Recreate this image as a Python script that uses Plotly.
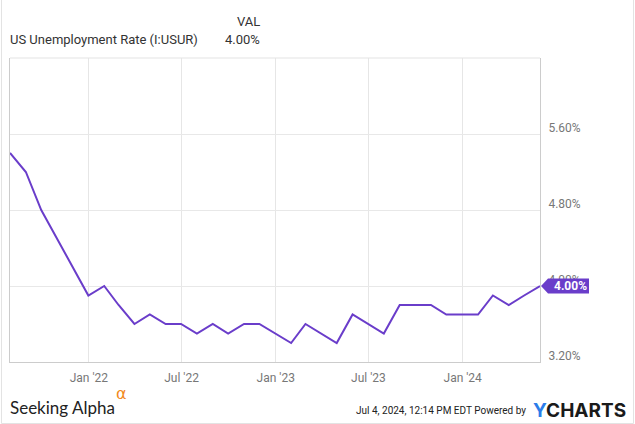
import pandas as pd
import plotly.graph_objects as go

# ---- data ----
dates = list(pd.date_range("2021-07-31", periods=35, freq="ME"))
rate = [5.4, 5.2, 4.8, 4.5, 4.2, 3.9,
        4.0, 3.8, 3.6, 3.7, 3.6, 3.6, 3.5, 3.6, 3.5, 3.6, 3.6, 3.5,
        3.4, 3.6, 3.5, 3.4, 3.7, 3.6, 3.5, 3.8, 3.8, 3.8, 3.7, 3.7,
        3.7, 3.9, 3.8, 3.9, 4.0]
xtick_vals = ["2022-01-01", "2022-07-01", "2023-01-01", "2023-07-01", "2024-01-01"]
xtick_text = ["Jan '22", "Jul '22", "Jan '23", "Jul '23", "Jan '24"]
ytick_vals = [3.2, 4.0, 4.8, 5.6]
y_range = [3.2, 6.4]
series_name = "US Unemployment Rate (I:USUR)"

LINE = "#6a3dca"
W, H = 635, 424
L, R, T, B = 10, 95, 58, 62
PW, PH = W - L - R, H - T - B

def px(x):
    return (x - L) / PW

def py(y):
    return (H - B - y) / PH

fig = go.Figure()
fig.add_trace(go.Scatter(x=dates, y=rate, mode="lines",
                         line=dict(color=LINE, width=2), hoverinfo="skip"))

last = rate[-1]
yfrac = (last - y_range[0]) / (y_range[1] - y_range[0])

shapes = [
    dict(type="line", xref="paper", yref="paper", x0=0, x1=1, y0=1, y1=1,
         line=dict(color="#e3e3e3", width=1)),
    dict(type="line", xref="paper", yref="paper", x0=px(1.5), x1=px(1.5), y0=py(0), y1=py(423.5),
         line=dict(color="#e3e3e3", width=1)),
    dict(type="line", xref="paper", yref="paper", x0=px(633.5), x1=px(633.5), y0=py(0), y1=py(423.5),
         line=dict(color="#e3e3e3", width=1)),
    dict(type="line", xref="paper", yref="paper", x0=px(1.5), x1=px(633.5), y0=py(423.5), y1=py(423.5),
         line=dict(color="#e3e3e3", width=1)),
    dict(type="path", xref="paper", yref="paper", xsizemode="pixel", ysizemode="pixel",
         xanchor=1, yanchor=yfrac,
         path="M1,0 L8,7.5 L49,7.5 L49,-7.5 L8,-7.5 Z",
         fillcolor=LINE, line=dict(width=0), layer="above"),
]

annotations = [
    dict(text=series_name, xref="paper", yref="paper", x=px(8), y=py(39),
         xanchor="left", yanchor="middle", showarrow=False,
         font=dict(family="Roboto", size=13, color="#333333")),
    dict(text="VAL", xref="paper", yref="paper", x=px(262), y=py(21),
         xanchor="right", yanchor="middle", showarrow=False,
         font=dict(family="Roboto", size=13, color="#333333")),
    dict(text=f"{last:.2f}%", xref="paper", yref="paper", x=px(262), y=py(39),
         xanchor="right", yanchor="middle", showarrow=False,
         font=dict(family="Roboto", size=13, color="#333333")),
    dict(text=f"<b>{last:.2f}%</b>", xref="paper", yref="paper", x=px(552), y=yfrac,
         xanchor="left", yanchor="middle", showarrow=False,
         font=dict(family="Roboto", size=12, color="white")),
    dict(text="Seeking Alpha", xref="paper", yref="paper", x=px(8), y=py(407),
         xanchor="left", yanchor="middle", showarrow=False,
         font=dict(family="Lato", size=17, color="#222222")),
    dict(text="\u03b1", xref="paper", yref="paper", x=px(114), y=py(394),
         xanchor="left", yanchor="middle", showarrow=False,
         font=dict(family="DejaVu Sans", size=16, color="#f28a1e")),
    dict(text="Jul 4, 2024, 12:14 PM EDT Powered by", xref="paper", yref="paper",
         x=px(528), y=py(410), xanchor="right", yanchor="middle", showarrow=False,
         font=dict(family="Roboto", size=10, color="#222222")),
    dict(text="<b><span style='color:#2b7de9'>Y</span>CHARTS</b>", xref="paper", yref="paper",
         x=px(531), y=py(410), xanchor="left", yanchor="middle", showarrow=False,
         font=dict(family="Inter", size=19, color="#1a1a1a")),
]

fig.update_layout(
    width=W, height=H,
    margin=dict(l=L, r=R, t=T, b=B),
    paper_bgcolor="white", plot_bgcolor="white",
    showlegend=False,
    shapes=shapes, annotations=annotations,
    xaxis=dict(range=[dates[0], dates[-1]], tickvals=xtick_vals, ticktext=xtick_text,
               showgrid=True, gridcolor="#e6e6e6", gridwidth=1,
               showline=True, linecolor="#cccccc", linewidth=1,
               ticks="", ticklabelstandoff=5,
               tickfont=dict(family="Roboto", size=12, color="#777777"),
               zeroline=False, fixedrange=True),
    yaxis=dict(range=y_range, tickvals=ytick_vals,
               ticktext=[f"{v:.2f}%" for v in ytick_vals],
               side="right", ticklabelshift=-6, ticklabelstandoff=5,
               showgrid=True, gridcolor="#e8e8e8", gridwidth=1,
               showline=True, mirror=True, linecolor="#cccccc", linewidth=1,
               ticks="", tickfont=dict(family="Roboto", size=12, color="#777777"),
               zeroline=False, fixedrange=True),
)

fig.write_html("out.html", config={"displayModeBar": False})
